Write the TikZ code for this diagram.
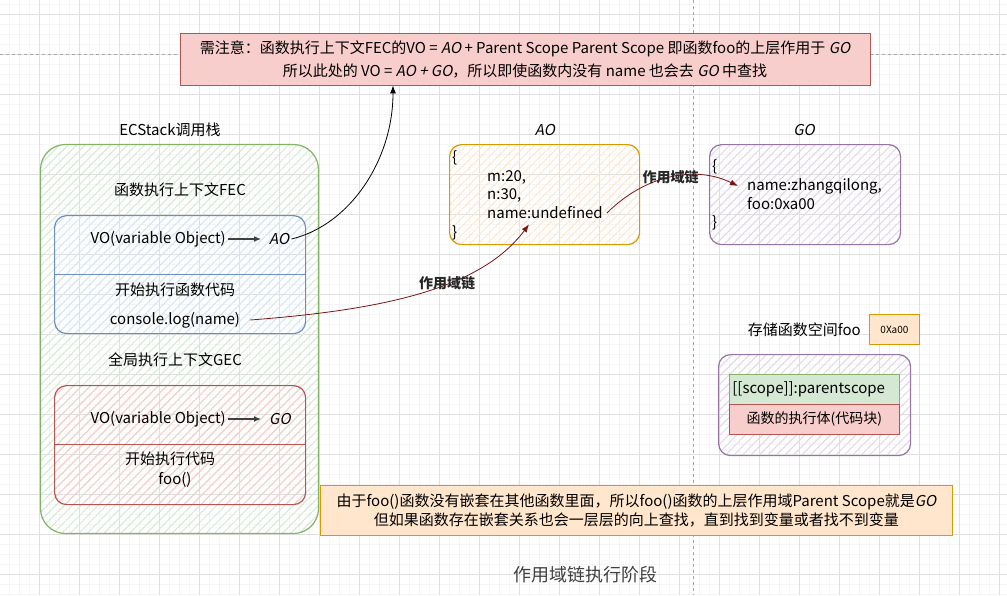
\documentclass[tikz,border=0pt]{standalone}
\usepackage{fontspec}
\setmainfont{Noto Sans CJK SC}
\newfontfamily\slfont{Noto Sans CJK SC}[FakeSlant=0.2]
\usetikzlibrary{arrows.meta,patterns.meta}

\definecolor{grnline}{HTML}{82B366}
\definecolor{grnfill}{HTML}{D5E8D4}
\definecolor{bluline}{HTML}{6C8EBF}
\definecolor{blufill}{HTML}{DAE8FC}
\definecolor{redline}{HTML}{B85450}
\definecolor{redfill}{HTML}{F8CECC}
\definecolor{orgline}{HTML}{D79B00}
\definecolor{orgfill}{HTML}{FFE6CC}
\definecolor{purline}{HTML}{9673A6}
\definecolor{purfill}{HTML}{E1D5E7}
\definecolor{chain}{HTML}{7A1414}

\tikzset{
  sketch/.style={draw=#1line, line width=1.2pt, rounded corners=12pt,
    pattern={Lines[angle=45,distance=6pt,line width=1pt]}, pattern color=#1fill},
  flat/.style={draw=#1line, fill=#1fill, line width=0.8pt},
  txt/.style={font=\fontsize{15}{18}\selectfont, inner sep=0pt},
  chainlbl/.style={text=black!85, font=\fontsize{14}{16}\selectfont\bfseries},
  chainarrow/.style={chain, line width=0.8pt, -{Latex[length=8pt,width=6pt]}},
  voarrow/.style={black!75, line width=1.2pt, -{Latex[length=7pt,width=6pt]}}
}

\begin{document}
\begin{tikzpicture}[x=1pt,y=-1pt]
  \useasboundingbox (0,0) rectangle (1007,595);
  % 背景网格
  \foreach \g in {9.5,19.5,...,1009.5} \draw[black!4, line width=0.5pt] (\g,0) -- (\g,595);
  \foreach \g in {4.5,14.5,...,594.5} \draw[black!4, line width=0.5pt] (0,\g) -- (1007,\g);
  \foreach \g in {39.5,79.5,...,999.5} \draw[black!12, line width=0.6pt] (\g,0) -- (\g,595);
  \foreach \g in {14.5,54.5,...,574.5} \draw[black!12, line width=0.6pt] (0,\g) -- (1007,\g);
  \draw[dashed, black!35, line width=0.6pt] (0,54) -- (1007,54);
  \draw[dashed, black!35, line width=0.6pt] (693,0) -- (693,595);

  % 顶部说明
  \node[flat=red, minimum width=690pt, minimum height=52pt, align=center,
        font=\fontsize{15}{23}\selectfont] (note) at (525,59)
    {需注意：函数执行上下文FEC的VO = {\slfont AO} + Parent Scope Parent Scope 即函数foo的上层作用于 {\slfont GO}\\
     所以此处的 VO = {\slfont AO + GO}，所以即使函数内没有 name 也会去 {\slfont GO} 中查找};

  % 调用栈
  \node[txt] (stacktitle) at (170,130) {ECStack调用栈};
  \node[sketch=grn, rounded corners=25pt, minimum width=278pt, minimum height=389pt, anchor=north west] (stack) at (40,144) {};

  \node[txt] (fectitle) at (180,190) {函数执行上下文FEC};
  \node[sketch=blu, minimum width=251pt, minimum height=118pt, anchor=north west] (fec) at (54,215) {};
  \draw[bluline, line width=1pt] (54,274) -- (305,274);
  \node[txt, anchor=east] (fecvo) at (226,239) {VO(variable Object)};
  \node[txt, anchor=west] (fecao) at (269,239) {\slfont AO};
  \draw[voarrow, shorten <=2pt, shorten >=8pt] (fecvo) -- (fecao);
  \node[txt] (fecrun) at (175,290) {开始执行函数代码};
  \node[txt] (feclog) at (175,320) {console.log(name)};

  \node[txt] (gectitle) at (175,360) {全局执行上下文GEC};
  \node[sketch=red, minimum width=251pt, minimum height=119pt, anchor=north west] (gec) at (54,385) {};
  \draw[redline, line width=1pt] (54,444) -- (305,444);
  \node[txt, anchor=east] (gecvo) at (226,419) {VO(variable Object)};
  \node[txt, anchor=west] (gecgo) at (269,419) {\slfont GO};
  \draw[voarrow, shorten <=2pt, shorten >=8pt] (gecvo) -- (gecgo);
  \node[txt] (gecrun) at (170,459) {开始执行代码};
  \node[txt] (gecfoo) at (175,480) {foo()};

  % AO
  \node[txt] (aotitle) at (545,130) {\slfont AO};
  \node[sketch=org, minimum width=190pt, minimum height=100pt, anchor=north west] (ao) at (449,144) {};
  \node[txt, anchor=west] (aoopen) at (452,158) {\{};
  \node[txt, anchor=west] (aom) at (487,177) {m:20,};
  \node[txt, anchor=west] (aon) at (487,195) {n:30,};
  \node[txt, anchor=west] (aoname) at (487,213) {name:undefined};
  \node[txt, anchor=west] (aoclose) at (452,233) {\}};

  % GO
  \node[txt] (gotitle) at (804,130) {\slfont GO};
  \node[sketch=pur, minimum width=191pt, minimum height=100pt, anchor=north west] (go) at (709,144) {};
  \node[txt, anchor=west] (goopen) at (712,167) {\{};
  \node[txt, anchor=west] (goname) at (747,186) {name:zhangqilong,};
  \node[txt, anchor=west] (gofoo) at (747,204) {foo:0xa00};
  \node[txt, anchor=west] (goclose) at (712,223) {\}};

  % 作用域链
  \draw[black, line width=0.8pt, -{Latex[length=8pt,width=6pt]}]
    ([xshift=2pt]fecao.east) .. controls (350,225) and (393,160) .. ([xshift=-132pt]note.south);
  \draw[chainarrow] ([xshift=4pt]aoname.east) .. controls (645,175) and (695,165) .. ([xshift=-9pt]goname.west)
    node[chainlbl, pos=0.5] {作用域链};
  \draw[chainarrow] ([xshift=10pt]feclog.east) .. controls (380,310) and (480,290) .. ([xshift=42pt,yshift=-5pt]aoname.south west)
    node[chainlbl, pos=0.6] {作用域链};

  % 函数存储空间
  \node[txt, anchor=east] (foolbl) at (861,330) {存储函数空间foo};
  \node[flat=org, minimum width=50pt, minimum height=30pt, anchor=north west,
        font=\fontsize{10}{12}\selectfont] (addr) at (869,314) {0Xa00};
  \node[sketch=pur, minimum width=192pt, minimum height=101pt, anchor=north west] (fooobj) at (718,354) {};
  \node[flat=grn, minimum width=170pt, minimum height=30pt, anchor=north west,
        text width=164pt, inner xsep=3pt, align=left, font=\fontsize{15}{17}\selectfont] (scope) at (729,374) {[[scope]]:parentscope};
  \node[flat=red, minimum width=170pt, minimum height=30pt, anchor=north west,
        font=\fontsize{14}{16}\selectfont] (body) at (729,404) {函数的执行体(代码块)};

  % 底部说明
  \node[flat=org, minimum width=632pt, minimum height=50pt, anchor=north west, align=center,
        font=\fontsize{15}{19}\selectfont] (tip) at (320,485)
    {由于foo()函数没有嵌套在其他函数里面，所以foo()函数的上层作用域Parent Scope就是{\slfont GO}\\
     但如果函数存在嵌套关系也会一层层的向上查找，直到找到变量或者找不到变量};

  \node[font=\fontsize{18}{20}\selectfont, text=black!75] (caption) at (585,575) {作用域链执行阶段};
\end{tikzpicture}
\end{document}
